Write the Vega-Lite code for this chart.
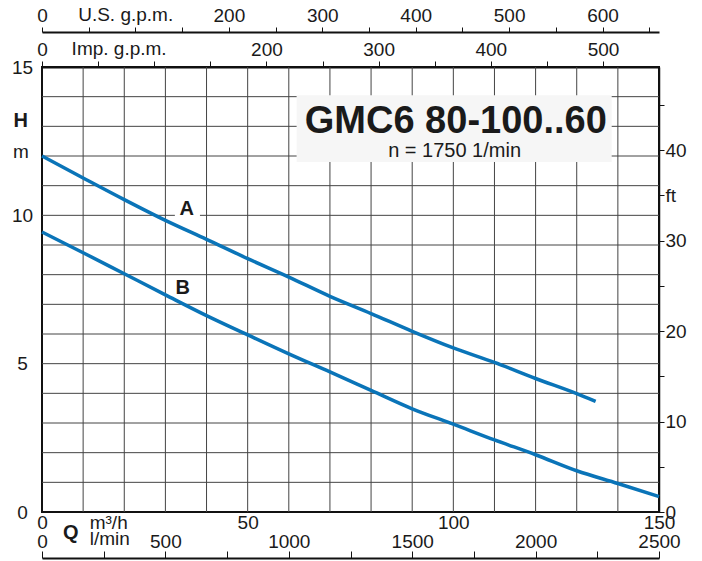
{
  "$schema": "https://vega.github.io/schema/vega-lite/v6.json",
  "width": 617,
  "height": 445,
  "autosize": "none",
  "padding": {"left": 42, "top": 67, "right": 43, "bottom": 49},
  "background": "white",
  "config": {
    "font": "Liberation Sans",
    "view": {"stroke": "#111", "strokeWidth": 2},
    "axis": {"labelFont": "Liberation Sans", "labelFontSize": 19, "labelColor": "#1a1a1a", "labelOverlap": false, "labelFlush": false, "title": null, "format": "d"}
  },
  "layer": [
    {
      "layer": [
        {
          "data": {"values": [{"q": 10}, {"q": 20}, {"q": 30}, {"q": 40}, {"q": 50}, {"q": 60}, {"q": 70}, {"q": 80}, {"q": 90}, {"q": 100}, {"q": 110}, {"q": 120}, {"q": 130}, {"q": 140}]},
          "mark": {"type": "rule", "color": "#444", "strokeWidth": 1},
          "encoding": {
            "x": {"field": "q", "type": "quantitative", "title": null,
              "scale": {"domain": [0, 150], "nice": false, "zero": false},
              "axis": {"orient": "bottom", "values": [0, 50, 100, 150],
                "grid": false, "domain": false, "ticks": false, "tickSize": 0, "labelPadding": 1}}
          }
        },
        {
          "data": {"values": [{"h": 1}, {"h": 2}, {"h": 3}, {"h": 4}, {"h": 5}, {"h": 6}, {"h": 7}, {"h": 8}, {"h": 9}, {"h": 10}, {"h": 11}, {"h": 12}, {"h": 13}, {"h": 14}]},
          "mark": {"type": "rule", "color": "#444", "strokeWidth": 1},
          "encoding": {
            "y": {"field": "h", "type": "quantitative", "title": null,
              "scale": {"domain": [0, 15], "nice": false, "zero": false},
              "axis": {"orient": "left", "values": [0, 5, 10, 15],
                "grid": false, "domain": false, "ticks": false, "tickSize": 0, "labelPadding": 20, "labelAlign": "center"}}
          }
        },
        {
          "data": {"values": [{"q": 61.9, "q2": 138.5, "h": 11.8, "h2": 14.05}]},
          "mark": {"type": "rect", "fill": "#f6f6f6"},
          "encoding": {
            "x": {"field": "q", "type": "quantitative", "title": null, "scale": {"domain": [0, 150], "nice": false, "zero": false}},
            "x2": {"field": "q2"},
            "y": {"field": "h", "type": "quantitative", "title": null, "scale": {"domain": [0, 15], "nice": false, "zero": false}},
            "y2": {"field": "h2"}
          }
        },
        {
          "data": {"values": [{"q": 32.3, "q2": 38.4, "h": 9.97, "h2": 10.64}]},
          "mark": {"type": "rect", "fill": "white"},
          "encoding": {
            "x": {"field": "q", "type": "quantitative", "title": null, "scale": {"domain": [0, 150], "nice": false, "zero": false}},
            "x2": {"field": "q2"},
            "y": {"field": "h", "type": "quantitative", "title": null, "scale": {"domain": [0, 15], "nice": false, "zero": false}},
            "y2": {"field": "h2"}
          }
        },
        {
          "data": {"values": [
            {"curve": "A", "q": 0, "h": 12.0},
            {"curve": "A", "q": 10, "h": 11.26},
            {"curve": "A", "q": 20, "h": 10.53},
            {"curve": "A", "q": 30, "h": 9.83},
            {"curve": "A", "q": 40, "h": 9.19},
            {"curve": "A", "q": 50, "h": 8.54},
            {"curve": "A", "q": 60, "h": 7.92},
            {"curve": "A", "q": 70, "h": 7.27},
            {"curve": "A", "q": 80, "h": 6.69},
            {"curve": "A", "q": 90, "h": 6.09},
            {"curve": "A", "q": 100, "h": 5.53},
            {"curve": "A", "q": 110, "h": 5.04},
            {"curve": "A", "q": 120, "h": 4.5},
            {"curve": "A", "q": 130, "h": 3.99},
            {"curve": "A", "q": 134.6, "h": 3.73},
            {"curve": "B", "q": 0, "h": 9.44},
            {"curve": "B", "q": 10, "h": 8.74},
            {"curve": "B", "q": 20, "h": 8.03},
            {"curve": "B", "q": 30, "h": 7.32},
            {"curve": "B", "q": 40, "h": 6.62},
            {"curve": "B", "q": 50, "h": 5.97},
            {"curve": "B", "q": 60, "h": 5.33},
            {"curve": "B", "q": 70, "h": 4.72},
            {"curve": "B", "q": 80, "h": 4.1},
            {"curve": "B", "q": 90, "h": 3.48},
            {"curve": "B", "q": 100, "h": 2.96},
            {"curve": "B", "q": 110, "h": 2.43},
            {"curve": "B", "q": 120, "h": 1.93},
            {"curve": "B", "q": 130, "h": 1.39},
            {"curve": "B", "q": 140, "h": 0.96},
            {"curve": "B", "q": 150, "h": 0.52}
          ]},
          "mark": {"type": "line", "color": "#0a74b8", "strokeWidth": 3.5, "interpolate": "monotone"},
          "encoding": {
            "x": {"field": "q", "type": "quantitative", "title": null, "scale": {"domain": [0, 150], "nice": false, "zero": false}},
            "y": {"field": "h", "type": "quantitative", "title": null, "scale": {"domain": [0, 15], "nice": false, "zero": false}},
            "detail": {"field": "curve"}
          }
        },
        {
          "data": {"values": [{"t": "GMC6 80-100..60", "q": 100.6, "h": 12.78}]},
          "mark": {"type": "text", "fontSize": 38, "fontWeight": "bold", "align": "center", "baseline": "alphabetic", "color": "#1a1a1a"},
          "encoding": {
            "x": {"field": "q", "type": "quantitative", "title": null, "scale": {"domain": [0, 150], "nice": false, "zero": false}},
            "y": {"field": "h", "type": "quantitative", "title": null, "scale": {"domain": [0, 15], "nice": false, "zero": false}},
            "text": {"field": "t"}
          }
        },
        {
          "data": {"values": [{"t": "n = 1750 1/min", "q": 100.3, "h": 11.95}]},
          "mark": {"type": "text", "fontSize": 20, "align": "center", "baseline": "alphabetic", "color": "#1a1a1a"},
          "encoding": {
            "x": {"field": "q", "type": "quantitative", "title": null, "scale": {"domain": [0, 150], "nice": false, "zero": false}},
            "y": {"field": "h", "type": "quantitative", "title": null, "scale": {"domain": [0, 15], "nice": false, "zero": false}},
            "text": {"field": "t"}
          }
        },
        {
          "data": {"values": [{"t": "A", "q": 35.2, "h": 10.0}, {"t": "B", "q": 34.2, "h": 7.36}, {"t": "Q", "q": 6.98, "h": -0.9}, {"t": "H", "q": -5.18, "h": 12.98}]},
          "mark": {"type": "text", "fontSize": 20, "fontWeight": "bold", "align": "center", "baseline": "alphabetic", "color": "#1a1a1a"},
          "encoding": {
            "x": {"field": "q", "type": "quantitative", "title": null, "scale": {"domain": [0, 150], "nice": false, "zero": false}},
            "y": {"field": "h", "type": "quantitative", "title": null, "scale": {"domain": [0, 15], "nice": false, "zero": false}},
            "text": {"field": "t"}
          }
        },
        {
          "data": {"values": [{"t": "m", "q": -5.1, "h": 11.94}]},
          "mark": {"type": "text", "fontSize": 19, "align": "center", "baseline": "alphabetic", "color": "#1a1a1a"},
          "encoding": {
            "x": {"field": "q", "type": "quantitative", "title": null, "scale": {"domain": [0, 150], "nice": false, "zero": false}},
            "y": {"field": "h", "type": "quantitative", "title": null, "scale": {"domain": [0, 15], "nice": false, "zero": false}},
            "text": {"field": "t"}
          }
        },
        {
          "data": {"values": [{"t": "m³/h", "q": 11.6, "h": -0.58}, {"t": "l/min", "q": 11.6, "h": -1.12}, {"t": "U.S. g.p.m.", "q": 8.8, "h": 16.55}, {"t": "Imp. g.p.m.", "q": 7.2, "h": 15.39}]},
          "mark": {"type": "text", "fontSize": 19, "align": "left", "baseline": "alphabetic", "color": "#1a1a1a"},
          "encoding": {
            "x": {"field": "q", "type": "quantitative", "title": null, "scale": {"domain": [0, 150], "nice": false, "zero": false}},
            "y": {"field": "h", "type": "quantitative", "title": null, "scale": {"domain": [0, 15], "nice": false, "zero": false}},
            "text": {"field": "t"}
          }
        }
      ]
    },
    {
      "data": {"values": [{"g": 0}, {"g": 660.4}]},
      "mark": {"type": "point", "opacity": 0},
      "encoding": {
        "x": {"field": "g", "type": "quantitative", "title": null,
          "scale": {"domain": [0, 660.4], "nice": false, "zero": false},
          "axis": {"orient": "top", "offset": 35, "values": [0,50,100,150,200,250,300,350,400,450,500,550,600,650],
            "grid": false, "domainColor": "#111", "domainWidth": 2, "tickColor": "#111", "tickSize": 5, "tickWidth": 1,
            "labelPadding": 2, "labelExpr": "datum.value % 100 == 0 && datum.value != 100 ? datum.label : ''"}}
      }
    },
    {
      "data": {"values": [{"g": 0}, {"g": 549.9}]},
      "mark": {"type": "point", "opacity": 0},
      "encoding": {
        "x": {"field": "g", "type": "quantitative", "title": null,
          "scale": {"domain": [0, 549.9], "nice": false, "zero": false},
          "axis": {"orient": "top", "offset": 0, "values": [0,50,100,150,200,250,300,350,400,450,500,550],
            "grid": false, "domainColor": "#111", "domainWidth": 2, "tickColor": "#111", "tickSize": 6, "tickWidth": 1,
            "labelPadding": 2, "labelExpr": "datum.value % 100 == 0 && datum.value != 100 ? datum.label : ''"}}
      }
    },
    {
      "data": {"values": [{"l": 0}, {"l": 2500}]},
      "mark": {"type": "point", "opacity": 0},
      "encoding": {
        "x": {"field": "l", "type": "quantitative", "title": null,
          "scale": {"domain": [0, 2500], "nice": false, "zero": false},
          "axis": {"orient": "top", "offset": -491, "values": [0,250,500,750,1000,1250,1500,1750,2000,2250,2500],
            "grid": false, "domainColor": "#111", "domainWidth": 2, "tickColor": "#111", "tickSize": 7, "tickWidth": 1,
            "labelPadding": 0, "labelExpr": "datum.value % 500 == 0 ? datum.label : ''"}}
      }
    },
    {
      "data": {"values": [{"f": 0}, {"f": 49.21}]},
      "mark": {"type": "point", "opacity": 0},
      "encoding": {
        "y": {"field": "f", "type": "quantitative", "title": null,
          "scale": {"domain": [0, 49.21], "nice": false, "zero": false},
          "axis": {"orient": "right", "values": [0,5,10,15,20,25,30,35,40,45],
            "grid": false, "domainColor": "#111", "domainWidth": 1.5, "tickColor": "#111", "tickSize": 5, "tickWidth": 1,
            "labelPadding": 1, "labelExpr": "datum.value == 35 ? 'ft' : (datum.value % 10 == 0 ? datum.label : '')"}}
      }
    }
  ],
  "resolve": {"scale": {"x": "independent", "y": "independent"}}
}
